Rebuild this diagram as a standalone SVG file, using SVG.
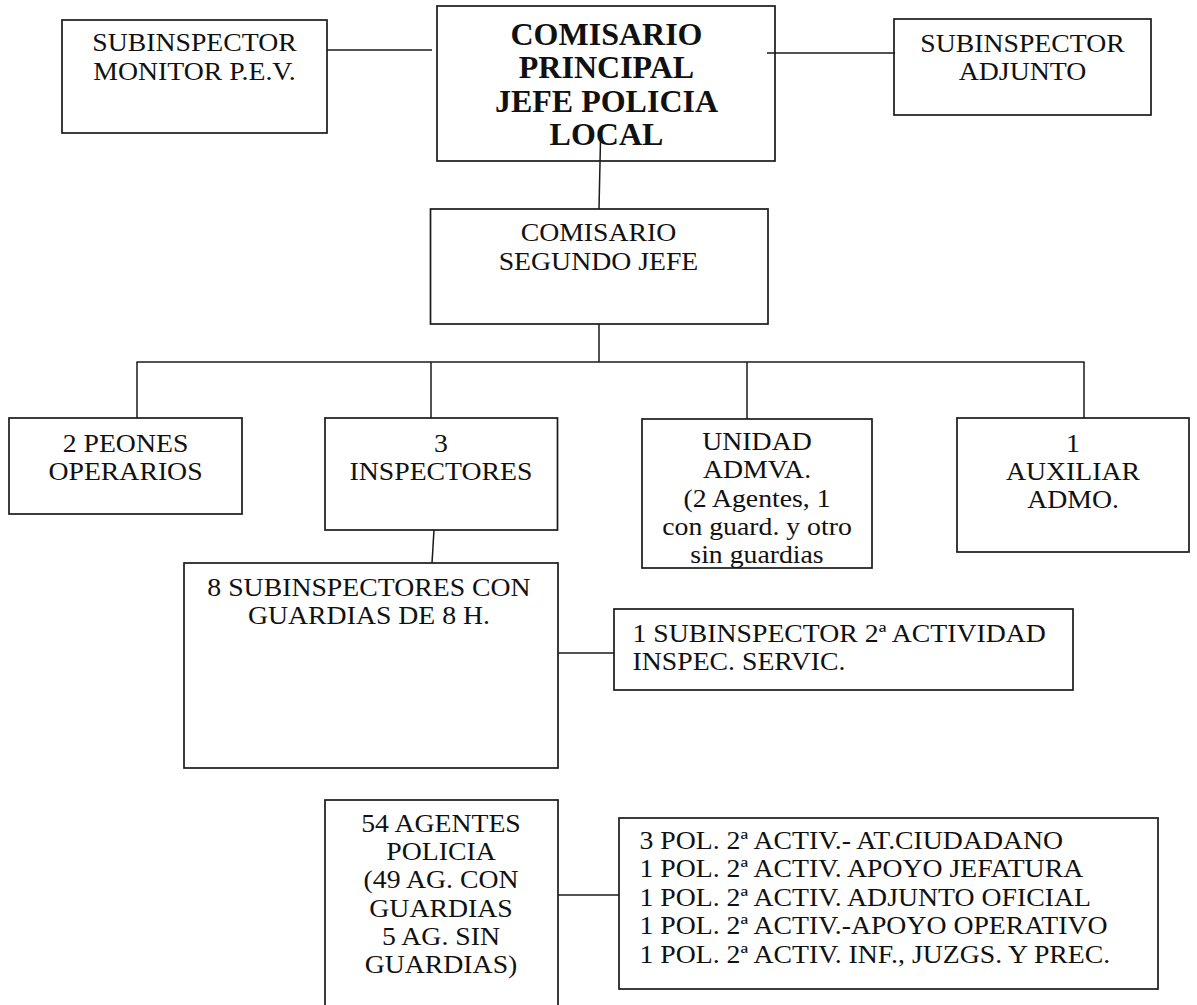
<svg xmlns="http://www.w3.org/2000/svg" width="1197" height="1005" viewBox="0 0 1197 1005">
<style>
rect{fill:#fff;stroke:#1a1a1a;stroke-width:1.7}
.c line{stroke:#1a1a1a;stroke-width:1.5}
text{font-family:"Liberation Serif","Times New Roman","DejaVu Serif",serif;font-size:25px;fill:#111}
.m text{text-anchor:middle}
.b text{font-weight:bold;font-size:32px;text-anchor:middle}
</style>
<rect x="0" y="0" width="1197" height="1005" style="stroke:none"/>
<g id="subinspector-monitor">
<rect x="62" y="20" width="265" height="113"/>
<g class="m" transform="translate(194.5 0) scale(1.11 1)"><text x="0" y="51.5">SUBINSPECTOR</text><text x="0" y="80">MONITOR P.E.V.</text></g>
</g>
<g id="comisario-principal">
<rect x="437" y="6" width="338" height="155"/>
<g class="b"><text x="606.5" y="44.5">COMISARIO</text><text x="606.5" y="78">PRINCIPAL</text><text x="606.5" y="111.5">JEFE POLICIA</text><text x="606.5" y="145">LOCAL</text></g>
</g>
<g id="subinspector-adjunto">
<rect x="894" y="19" width="257" height="96"/>
<g class="m" transform="translate(1022.5 0) scale(1.11 1)"><text x="0" y="52">SUBINSPECTOR</text><text x="0" y="80">ADJUNTO</text></g>
</g>
<g id="comisario-segundo">
<rect x="430.5" y="209" width="337.5" height="115"/>
<g class="m" transform="translate(598.5 0) scale(1.11 1)"><text x="0" y="241.5">COMISARIO</text><text x="0" y="270">SEGUNDO JEFE</text></g>
</g>
<g id="peones">
<rect x="9" y="418" width="233" height="96"/>
<g class="m" transform="translate(125.5 0) scale(1.11 1)"><text x="0" y="452">2 PEONES</text><text x="0" y="480">OPERARIOS</text></g>
</g>
<g id="inspectores">
<rect x="325" y="418" width="232.5" height="112"/>
<g class="m" transform="translate(441 0) scale(1.11 1)"><text x="0" y="452">3</text><text x="0" y="480">INSPECTORES</text></g>
</g>
<g id="unidad-admva">
<rect x="642" y="419" width="230" height="149"/>
<g class="m" transform="translate(757 0) scale(1.11 1)"><text x="0" y="450">UNIDAD</text><text x="0" y="478.5">ADMVA.</text><text x="0" y="507">(2 Agentes, 1</text><text x="0" y="535.5">con guard. y otro</text><text x="0" y="563">sin guardias</text></g>
</g>
<g id="auxiliar">
<rect x="957" y="418" width="232" height="134"/>
<g class="m" transform="translate(1073 0) scale(1.11 1)"><text x="0" y="452">1</text><text x="0" y="480">AUXILIAR</text><text x="0" y="508">ADMO.</text></g>
</g>
<g id="subinspectores">
<rect x="184" y="563" width="374" height="205"/>
<g class="m" transform="translate(369 0) scale(1.11 1)"><text x="0" y="596.5">8 SUBINSPECTORES CON</text><text x="0" y="624">GUARDIAS DE 8 H.</text></g>
</g>
<g id="subinspector-2a">
<rect x="614" y="609" width="459" height="81"/>
<g transform="translate(632.5 0) scale(1.11 1)"><text x="0" y="642">1 SUBINSPECTOR 2ª ACTIVIDAD</text><text x="0" y="670">INSPEC. SERVIC.</text></g>
</g>
<g id="agentes">
<rect x="325" y="800" width="233" height="215"/>
<g class="m" transform="translate(441 0) scale(1.11 1)"><text x="0" y="832">54 AGENTES</text><text x="0" y="860">POLICIA</text><text x="0" y="888.5">(49 AG. CON</text><text x="0" y="917">GUARDIAS</text><text x="0" y="945">5 AG. SIN</text><text x="0" y="973.5">GUARDIAS)</text></g>
</g>
<g id="pol-2a">
<rect x="619" y="818" width="539" height="171"/>
<g transform="translate(639.5 0) scale(1.11 1)"><text x="0" y="849">3 POL. 2ª ACTIV.- AT.CIUDADANO</text><text x="0" y="877.5">1 POL. 2ª ACTIV. APOYO JEFATURA</text><text x="0" y="906">1 POL. 2ª ACTIV. ADJUNTO OFICIAL</text><text x="0" y="934.5">1 POL. 2ª ACTIV.-APOYO OPERATIVO</text><text x="0" y="963">1 POL. 2ª ACTIV. INF., JUZGS. Y PREC.</text></g>
</g>
<g id="connectors" class="c">
<line x1="327" y1="50" x2="432" y2="50"/>
<line x1="767" y1="53" x2="895" y2="53"/>
<line x1="600.5" y1="140" x2="599" y2="209"/>
<line x1="599" y1="324" x2="599" y2="362"/>
<line x1="136.5" y1="362" x2="1084.5" y2="362"/>
<line x1="137" y1="362" x2="137" y2="418"/>
<line x1="431" y1="362" x2="431" y2="418"/>
<line x1="747" y1="362" x2="747" y2="419"/>
<line x1="1084" y1="362" x2="1084" y2="418"/>
<line x1="434" y1="530" x2="432" y2="563"/>
<line x1="558" y1="653" x2="614" y2="653"/>
<line x1="558" y1="895" x2="619" y2="895"/>
</g>
</svg>
